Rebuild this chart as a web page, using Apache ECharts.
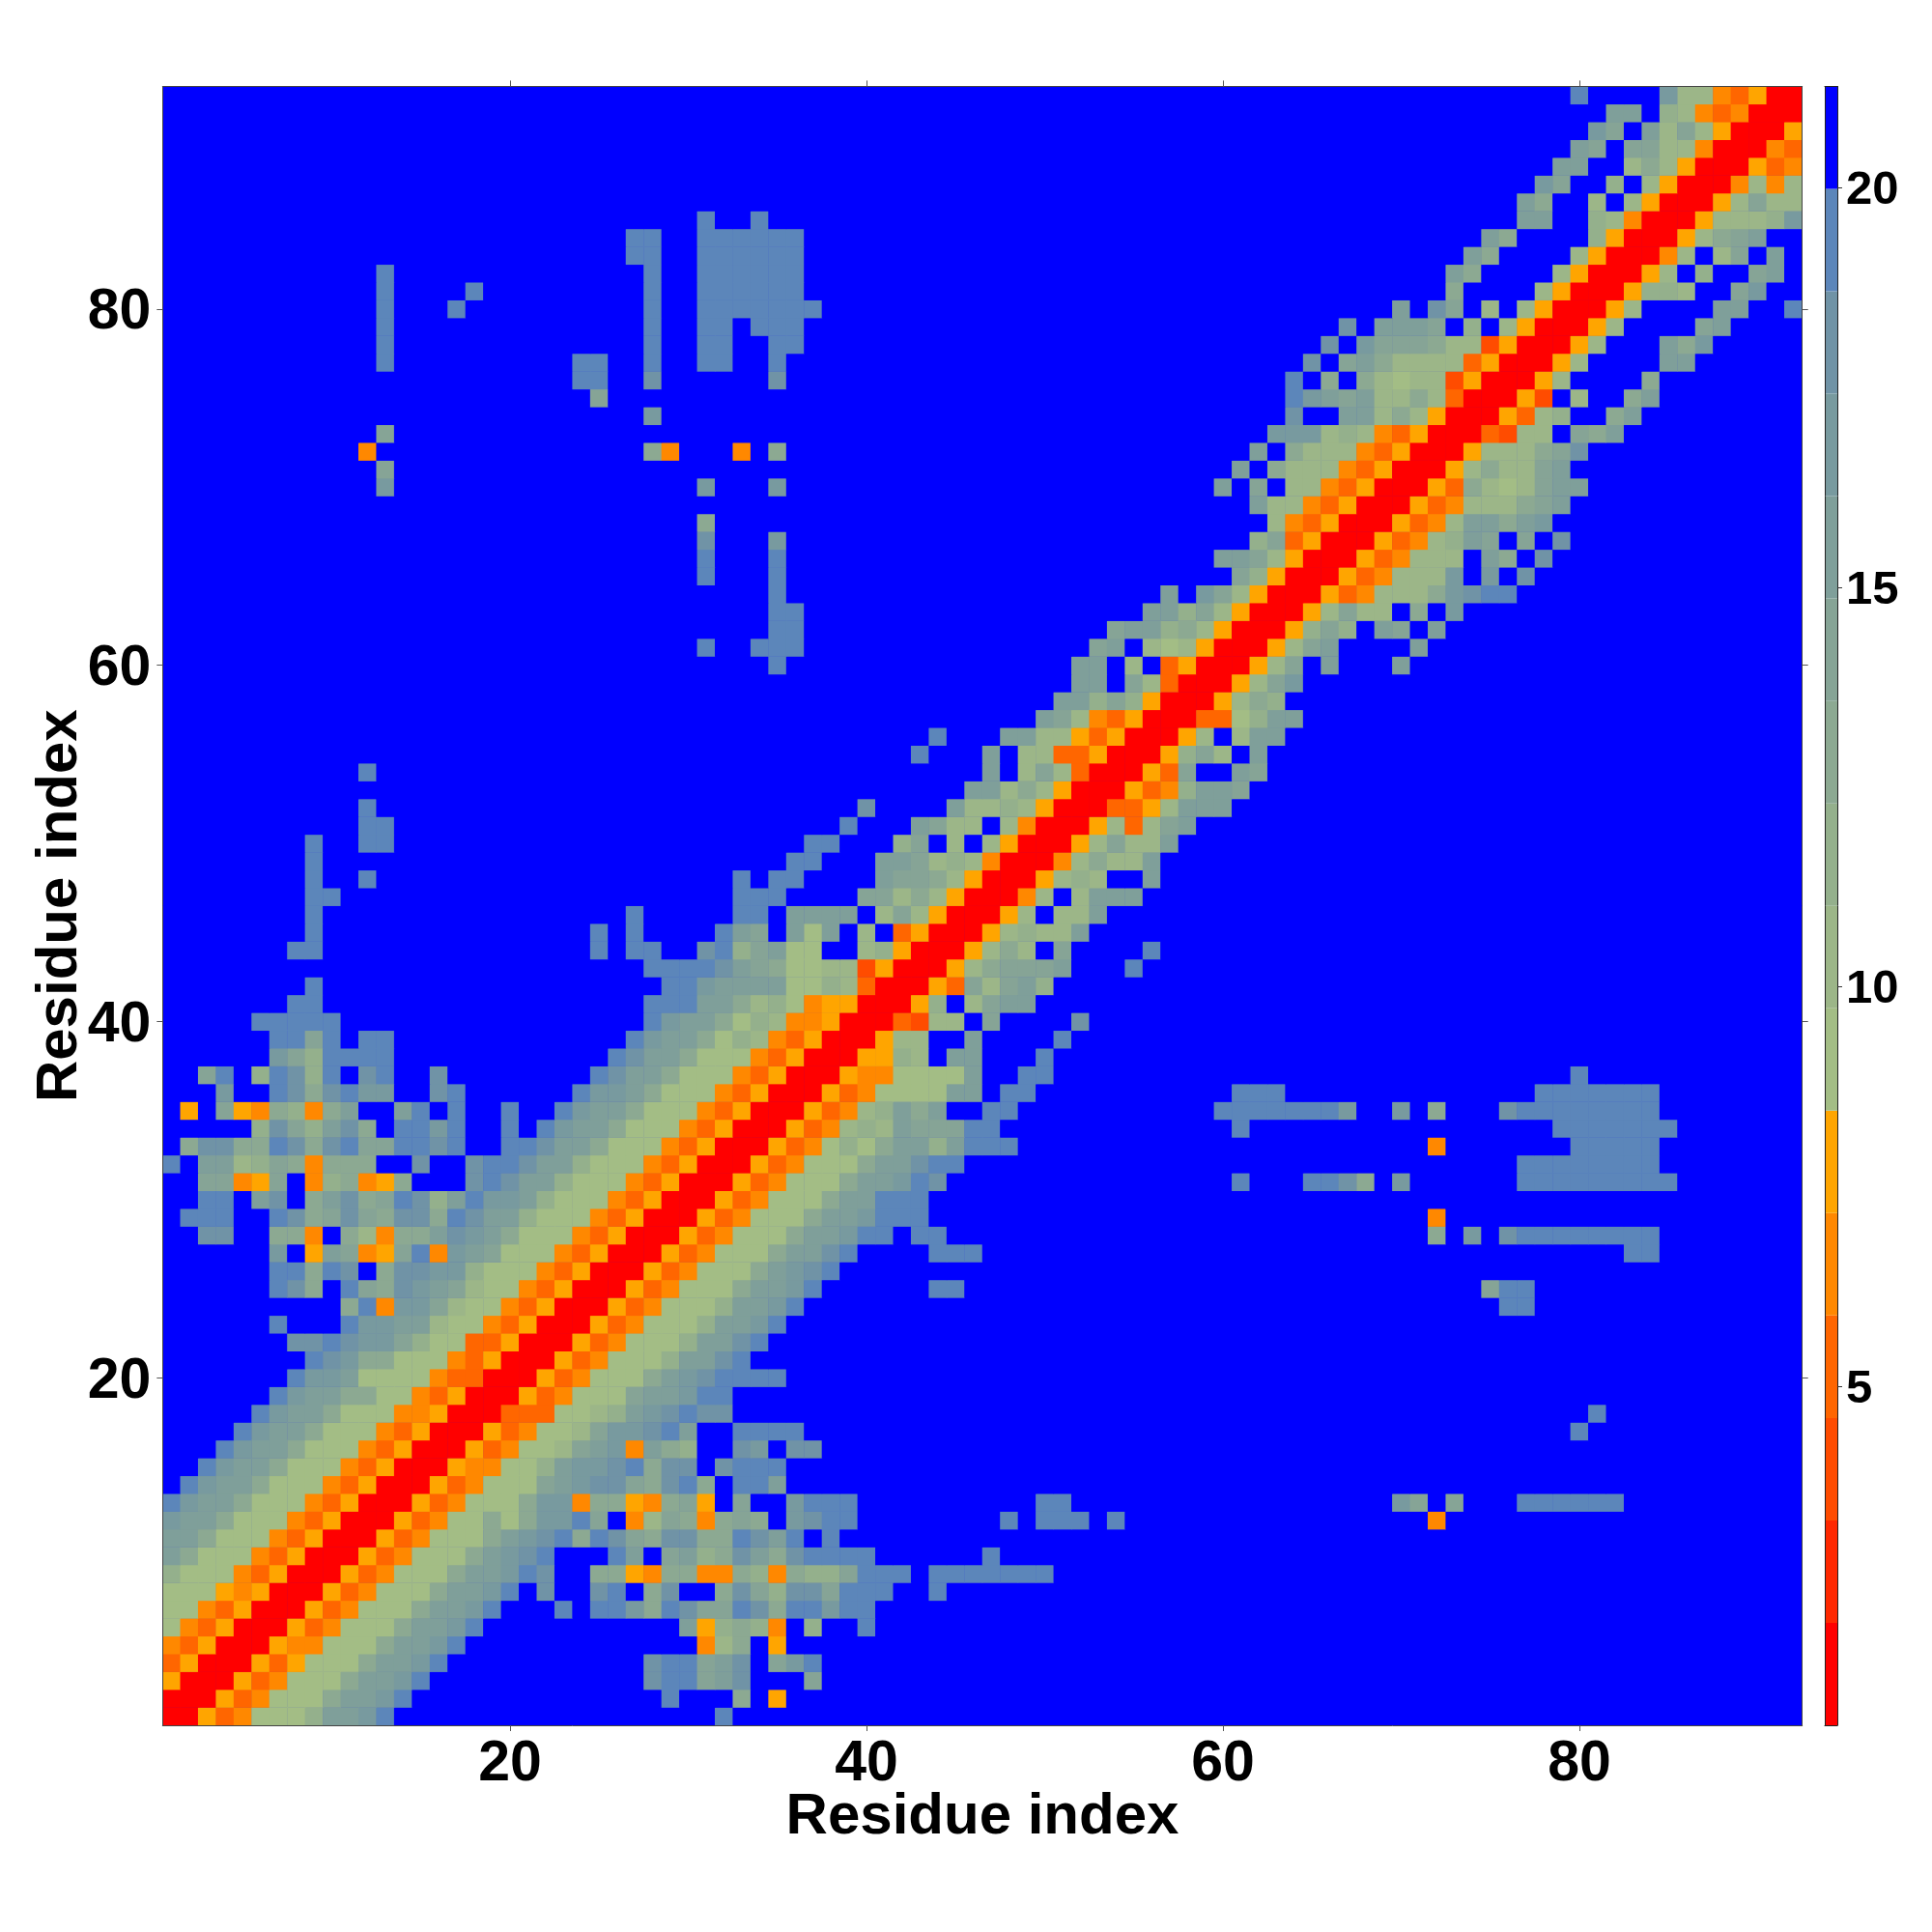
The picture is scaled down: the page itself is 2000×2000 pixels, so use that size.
<!DOCTYPE html>
<html><head><meta charset="utf-8">
<style>html,body{margin:0;padding:0;background:#fff}#c{width:2000px;height:2000px}</style>
<script src="https://cdn.jsdelivr.net/npm/echarts@6/dist/echarts.min.js"></script>
</head><body><div id="c"></div>
<script>
// Colour band of each residue pair (upper triangle, row j = 1..92).
// First token starts at i=j; "i:chars" tokens start at residue i. '.' = beyond the scale (top band).
const rows = [
"116457779ccdf 32:f",
"11645777accdf 29:f 33:a 35:6",
"11645777accdf 28:effbce 37:b",
"11646777accdf 28:effbce 35:bdf",
"11655777accdf 31:58a 35:6",
"11645777accdf 30:c69a95 37:9 40:f",
"11645777accdf 23:f 25:ffdafebbfeaffdff",
"11645777accdf 22:e 25:ef.ae..aeb9eebfff 44:f",
"11645777accdfe 25:aa65aa55a95a99bfff 44:fffffff",
"11645777acdef 26:fc.bc9aecaeffff 47:f",
"11645777acdefafebaeeaafecf.f",
"1164577a7addfb.58ba5aba.deff 48:f 50:fff 54:f 72:5",
"11645777add5aa65ab6.b..dfff 50:ff 70:db.b 77:ffffff",
"11645777bcdeebaefa.ffc",
"11655779cddefaee.efff",
"11645778bcd5ca9..ed.ee",
"11645778bddefc..ffff 80:f",
"114447789cdefee 81:f",
"11645777bccdff",
"11645777acdeffff",
"116457779ccef",
"116457779ccef",
"116457779ccdf",
"116457779ccdf 76:ff",
"11645777accdf 44:ff 75:bff",
"11645777acdef",
"11645777accef 44:fff 83:ff",
"11645777accdff.ff 72:a 74:d 76:effffffff",
"11645777accdfff 72:5",
"11645777accfff",
"11645777accdfe 61:f 65:ffea.d 77:fffffffff",
"11645777acceff 77:ffffffff",
"11645797acc9cfff 72:5 80:fffff",
"11645898cbbbff 61:f 79:fffffff",
"1164589cac..ff 60:fffffffd 70:d 72:a 76:effffffff",
"116457777cc.ff 61:fff 78:fffffff",
"116557777c..ff 80:f",
"116698.cc...f",
"11688..c....f",
"114388.b....e",
"1169.8bcc",
"1164b8bc9",
"1168abbbc 55:f",
"1168a8.b 56:f",
"1168988c",
"1168.88c",
"1158.8ccc",
"116898..c",
"1158a88c",
"1168b88c",
"116848bc",
"114468ccc",
"116459ccb",
"1164b..cb",
"1169b8.c",
"1168.8cc",
"114479cc",
"1168a9",
"1168bd",
"1168b.c 70:c",
"1168bc 71:c",
"1169b9.cb.c",
"1168b88.a.d",
"11645888adeff",
"11645888d.d.e",
"11645888.ca.e",
"1164589cb.b.e",
"116458ccacd",
"11645888abc",
"1164a878bcc",
"1168a88bc",
"116888abe",
"114388.bac",
"116489..ac",
"1163.8..ac",
"1168....a",
"1168....cc",
"1168...cad",
"1168....bc",
"1168....cc..f",
"116998..bd",
"1168.9..bc",
"1158.8b.c",
"1168abc",
"1168889d",
"1168b88",
"115858",
"11645",
"1154",
"116",
"11",
"1"
];
const residues = Array.from({length: 92}, (_, k) => String(k + 1));
const tickResidues = [20, 40, 60, 80];
const scaleTicks = [5, 10, 15, 20];
const scaleMin = 0.76;
const scaleMax = 21.27;
const bandColors = ['#ff0000','#ff2800','#ff4c00','#ff6600','#ff8800','#ffa500',
  '#a3bd85','#9cb688','#94b08c','#8ca992','#86a496','#7f9f9a','#789a9f','#7093a6','#5c86ba','#0000ff'];

const bandW = (scaleMax - scaleMin) / 16;
const size = residues.length;
const M = Array.from({length: size}, () => new Array(size).fill(16));
rows.forEach((row, r) => {
  row.split(' ').forEach((tok, t) => {
    let start = r, chars = tok;
    if (t > 0) { const p = tok.split(':'); start = +p[0] - 1; chars = p[1]; }
    [...chars].forEach((ch, k) => {
      const b = ch === '.' ? 16 : parseInt(ch, 16);
      M[r][start + k] = b; M[start + k][r] = b;
    });
  });
});
const cells = [];
for (let j = 0; j < size; j++) for (let i = 0; i < size; i++)
  cells.push([i, j, scaleMin + (M[j][i] - 0.5) * bandW]);

const pieces = bandColors.map((c, k) => ({gte: scaleMin + k * bandW, lt: scaleMin + (k + 1) * bandW, color: c}));
const onTick = (idx) => tickResidues.includes(idx + 1);
const font = '"Liberation Sans", Arial, sans-serif';

const catAxis = (extra) => Object.assign({
  type: 'category', data: residues, boundaryGap: true, gridIndex: 0, z: 5,
  axisLine: {show: true, onZero: false, lineStyle: {color: '#444', width: 1}},
  axisTick: {show: true, alignWithLabel: true, interval: onTick, length: 6, lineStyle: {color: '#555', width: 1}},
  splitLine: {show: false}
}, extra);
const mainLabel = {show: true, interval: onTick, color: '#000', fontFamily: font, fontWeight: 'bold', fontSize: 59};
const axisName = {color: '#000', fontFamily: font, fontWeight: 'bold', fontSize: 60};
const frameLine = {show: true, onZero: false, lineStyle: {color: '#222', width: 1}};

const barSeries = bandColors.map((c, k) => ({
  type: 'bar', xAxisIndex: 2, yAxisIndex: 2, stack: 'scale', barWidth: '100%',
  itemStyle: {color: c}, silent: true, animation: false,
  data: [k === 0 ? scaleMin + bandW : bandW]
}));

const chart = echarts.init(document.getElementById('c'), null, {renderer: 'canvas'});
chart.setOption({
  animation: false,
  backgroundColor: '#fff',
  grid: [
    {left: 168.3, top: 89.4, width: 1697.4, height: 1696.6, show: true, backgroundColor: '#0000ff', borderWidth: 0, outerBoundsMode: 'none'},
    {left: 1889, top: 89.4, width: 13, height: 1696.6, show: false, outerBoundsMode: 'none'}
  ],
  xAxis: [
    catAxis({position: 'bottom', axisLabel: Object.assign({margin: 11}, mainLabel),
      name: 'Residue index', nameLocation: 'middle', nameMoveOverlap: false, nameGap: 65, nameTextStyle: axisName}),
    catAxis({position: 'top', axisLabel: {show: false}}),
    {type: 'category', gridIndex: 1, z: 5, data: [''], axisLine: frameLine, axisTick: {show: false}, axisLabel: {show: false}},
    {type: 'category', gridIndex: 1, z: 5, position: 'top', data: [''], axisLine: frameLine, axisTick: {show: false}, axisLabel: {show: false}}
  ],
  yAxis: [
    catAxis({position: 'left', axisLabel: Object.assign({margin: 12, verticalAlign: 'top', lineHeight: 8}, mainLabel),
      name: 'Residue index', nameLocation: 'middle', nameMoveOverlap: false, nameGap: 76, nameTextStyle: axisName}),
    catAxis({position: 'right', axisLabel: {show: false}}),
    {type: 'value', gridIndex: 1, z: 5, position: 'right', min: scaleMin, max: scaleMax,
     axisLine: frameLine,
     axisTick: {show: true, length: 5, customValues: scaleTicks, lineStyle: {color: '#333', width: 1}},
     axisLabel: {show: true, margin: 9, verticalAlign: 'top', lineHeight: 6, customValues: scaleTicks, color: '#000', fontFamily: font, fontWeight: 'bold', fontSize: 49},
     splitLine: {show: false}},
    {type: 'value', gridIndex: 1, z: 5, position: 'left', min: scaleMin, max: scaleMax,
     axisLine: frameLine, axisTick: {show: false}, axisLabel: {show: false}, splitLine: {show: false}}
  ],
  visualMap: {type: 'piecewise', show: false, seriesIndex: 0, pieces: pieces},
  series: [{type: 'heatmap', xAxisIndex: 0, yAxisIndex: 0, data: cells, progressive: 0, silent: true, animation: false, z: 1}].concat(barSeries)
});
</script></body></html>
